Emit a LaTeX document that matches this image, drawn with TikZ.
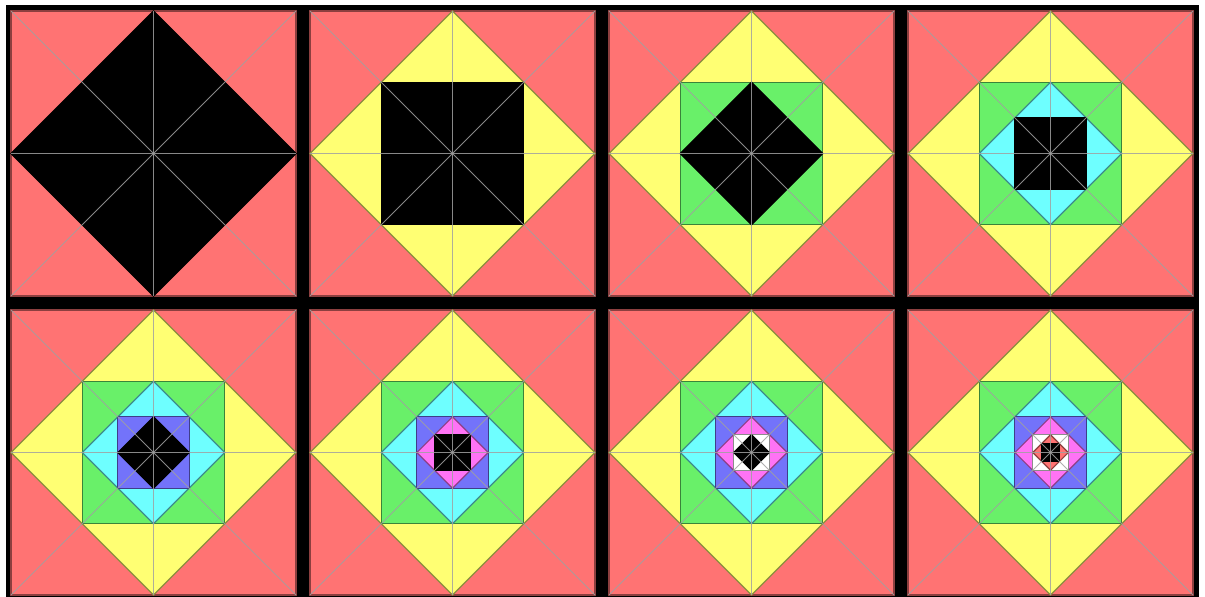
\documentclass[tikz,border=0pt]{standalone}
\usepackage{xcolor}
\usepackage{tikz}
\usetikzlibrary{calc}
\definecolor{tilered}{RGB}{255, 115, 115}
\definecolor{tileyellow}{RGB}{255, 255, 115}
\definecolor{tilegreen}{RGB}{105, 240, 105}
\definecolor{tilecyan}{RGB}{110, 255, 255}
\definecolor{tileblue}{RGB}{115, 115, 250}
\definecolor{tilemagenta}{RGB}{255, 115, 245}
\definecolor{tilewhite}{RGB}{255, 255, 255}
\definecolor{ruleline}{RGB}{160, 160, 160}

\begin{document}
\begin{tikzpicture}[x=1pt, y=-1pt,
    tileshape/.style={line width=1.2pt, line join=miter},
    rulelines/.style={draw=ruleline, opacity=0.85, line width=1pt}]
        \useasboundingbox (0, 0) rectangle (1205, 597);
        % Black frame behind the panels
        \fill[black] (6, 5) rectangle (1199, 597);
        
        % Eight panels, panel k has k coloured levels and a black core
        \foreach \k in {1,...,8}{
            \pgfmathsetmacro{\cx}{153.5+299*mod(\k-1,4)}
            \pgfmathsetmacro{\cy}{153.5+299*int((\k-1)/4)}
            \begin{scope}[shift={(\cx, \cy)}]
                \foreach \l/\c in {0/tilered, 1/tileyellow, 2/tilegreen, 3/tilecyan, 4/tileblue, 5/tilemagenta, 6/tilewhite, 7/tilered, 8/black}{
                    \ifnum\l>\k\else
                        \ifnum\l=\k \def\fc{black}\else \def\fc{\c}\fi
                        \pgfmathsetmacro{\r}{142.5*sqrt(2)^(1-\l)}
                        \pgfmathsetmacro{\a}{45*(\l+1)}
                        \filldraw[tileshape, fill=\fc, draw=\fc!55!black] (\a:\r) -- (\a+90:\r) -- (\a+180:\r) -- (\a+270:\r) -- cycle;
                    \fi
                }
                % Midlines and diagonals
                \draw[rulelines] (-142.5, 0) -- (142.5, 0);
                \draw[rulelines] (0, -142.5) -- (0, 142.5);
                \draw[rulelines] (-142.5, -142.5) -- (142.5, 142.5);
                \draw[rulelines] (-142.5, 142.5) -- (142.5, -142.5);
            \end{scope}
        }
    \end{tikzpicture}
\end{document}
